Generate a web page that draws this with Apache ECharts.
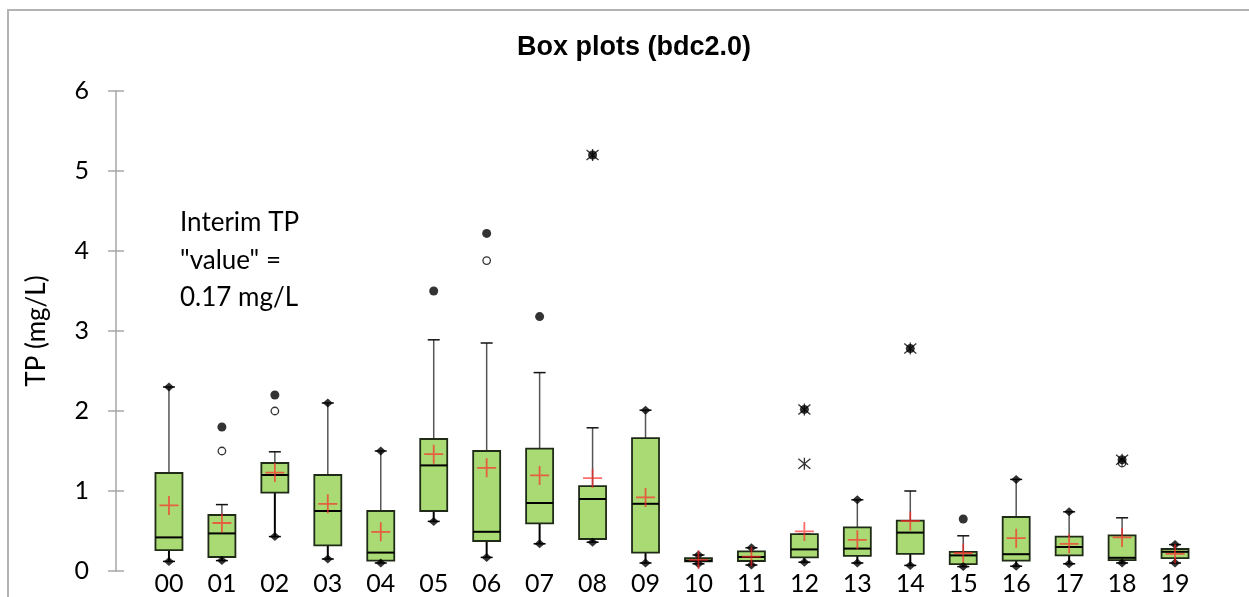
<!DOCTYPE html>
<html>
<head>
<meta charset="utf-8">
<script src="https://cdn.jsdelivr.net/npm/echarts@6/dist/echarts.min.js"></script>
<style>
html,body{margin:0;padding:0;background:#fff;}
#chart{width:1249px;height:597px;}
</style>
</head>
<body>
<div id="chart"></div>
<script>
// ---- data ----
const categories = ['00','01','02','03','04','05','06','07','08','09','10','11','12','13','14','15','16','17','18','19'];
const whiskerLow  = [0.12, 0.13, 0.43, 0.15, 0.10, 0.62, 0.17, 0.34, 0.36, 0.10, 0.09, 0.075, 0.11, 0.10, 0.07, 0.055, 0.06, 0.09, 0.10, 0.10];
const q1          = [0.26, 0.175, 0.98, 0.32, 0.13, 0.75, 0.375, 0.595, 0.40, 0.23, 0.12, 0.125, 0.17, 0.19, 0.215, 0.085, 0.13, 0.195, 0.135, 0.16];
const median      = [0.42, 0.47, 1.20, 0.75, 0.23, 1.32, 0.49, 0.85, 0.90, 0.84, 0.13, 0.175, 0.27, 0.28, 0.48, 0.195, 0.21, 0.30, 0.165, 0.24];
const q3          = [1.225, 0.70, 1.35, 1.20, 0.75, 1.65, 1.50, 1.53, 1.06, 1.66, 0.16, 0.245, 0.46, 0.545, 0.63, 0.24, 0.675, 0.43, 0.445, 0.275];
const whiskerHigh = [2.30, 0.83, 1.49, 2.10, 1.50, 2.89, 2.85, 2.48, 1.79, 2.01, 0.20, 0.29, 0.46, 0.89, 1.00, 0.44, 1.145, 0.74, 0.665, 0.33];
const means       = [0.82, 0.60, 1.23, 0.84, 0.49, 1.46, 1.29, 1.195, 1.16, 0.92, 0.14, 0.18, 0.495, 0.39, 0.625, 0.225, 0.41, 0.34, 0.42, 0.215];
const minima      = [0.12, 0.13, 0.43, 0.15, 0.10, 0.62, 0.17, 0.34, 0.36, 0.10, 0.09, 0.075, 0.11, 0.10, 0.07, 0.055, 0.06, 0.09, 0.10, 0.10];
const maxima      = [2.30, 1.80, 2.20, 2.10, 1.50, 3.50, 4.22, 3.18, 5.20, 2.01, 0.20, 0.29, 2.02, 0.89, 2.78, 0.65, 1.145, 0.74, 1.39, 0.33];
const outliers        = [['01',1.50],['02',2.00],['06',3.88],['18',1.35]];
const extremeOutliers = [['08',5.20],['12',2.02],['12',1.34],['14',2.78],['18',1.39]];
const yTicks = [0,1,2,3,4,5,6];
const titleText = 'Box plots (bdc2.0)';
const yName = 'TP (mg/L)';
const noteLines = ['Interim TP', '"value" =', '0.17 mg/L'];

// ---- build ----
const axisCats = [' '].concat(categories, ['  ']);
const boxData = categories.map((c,i)=>[c, whiskerLow[i], q1[i], median[i], q3[i], whiskerHigh[i]]);
const meanData = categories.map((c,i)=>[c, means[i]]);
const diamondData = categories.map((c,i)=>[c, minima[i]])
  .concat(categories.map((c,i)=>[c, maxima[i]]).filter((d,i)=>maxima[i]===whiskerHigh[i]));
const maxOutData = categories.map((c,i)=>[c, maxima[i]]).filter((d,i)=>maxima[i]!==whiskerHigh[i]);

const FONT = 'Lato';
const chart = echarts.init(document.getElementById('chart'));
const HALF = 13.5, CAP = 6;

chart.setOption({
  animation: false,
  backgroundColor: '#fff',
  title: {
    text: titleText, left: 512, top: 29,
    textStyle: {fontFamily: 'Liberation Sans', fontWeight: 'bold', fontSize: 27, color: '#000'}
  },
  graphic: [
    {type:'rect', shape:{x:8, y:10, width:1300, height:700}, style:{fill:'none', stroke:'#b3b3b3', lineWidth:2}, silent:true, z:-1},
    {type:'text', left:180, top:204, style:{text: noteLines.join('\n'), fontFamily: FONT, fontSize: 26, lineHeight: 37.5, fill:'#000'}}
  ],
  grid: {left:116, right:21, top:91, bottom:26, containLabel:false},
  xAxis: {
    type:'category', data: axisCats, boundaryGap:false,
    axisLine:{show:false}, axisTick:{show:false}, splitLine:{show:false},
    axisLabel:{fontFamily:FONT, fontSize:25, color:'#000', margin:0, interval:0}
  },
  yAxis: [{
    type:'value', min:yTicks[0], max:yTicks[yTicks.length-1], interval:1,
    name: yName, nameLocation:'middle', nameGap:66, nameRotate:90,
    nameTextStyle:{fontFamily:FONT, fontSize:26, color:'#000'},
    axisLine:{show:true, lineStyle:{color:'#a6a6a6', width:1.5}},
    axisTick:{show:true, length:8, lineStyle:{color:'#a6a6a6', width:1.5}},
    axisLabel:{fontFamily:FONT, fontSize:25, color:'#000', margin:27},
    splitLine:{show:false}
  },{
    type:'value', min:yTicks[0], max:yTicks[yTicks.length-1], interval:1, position:'left',
    axisLine:{show:false},
    axisTick:{show:true, inside:true, length:8, lineStyle:{color:'#a6a6a6', width:1.5}},
    axisLabel:{show:false}, splitLine:{show:false}
  }],
  series: [
    {
      type:'custom', name:'box',
      encode:{x:0, y:[1,2,3,4,5]},
      data: boxData,
      z: 2,
      renderItem: function(params, api){
        const x = api.value(0);
        const pLo = api.coord([x, api.value(1)]);
        const pQ1 = api.coord([x, api.value(2)]);
        const pMed = api.coord([x, api.value(3)]);
        const pQ3 = api.coord([x, api.value(4)]);
        const pHi = api.coord([x, api.value(5)]);
        const cx = pLo[0];
        return {
          type:'group',
          children:[
            {type:'line', shape:{x1:cx, y1:pQ3[1], x2:cx, y2:pHi[1]}, style:{stroke:'#555', lineWidth:1.5}},
            {type:'line', shape:{x1:cx-CAP, y1:pHi[1], x2:cx+CAP, y2:pHi[1]}, style:{stroke:'#111', lineWidth:1.5}},
            {type:'line', shape:{x1:cx, y1:pQ1[1], x2:cx, y2:pLo[1]}, style:{stroke:'#000', lineWidth:2}},
            {type:'line', shape:{x1:cx-CAP, y1:pLo[1], x2:cx+CAP, y2:pLo[1]}, style:{stroke:'#000', lineWidth:1.5}},
            {type:'rect', shape:{x:cx-HALF, y:pQ3[1], width:2*HALF, height:pQ1[1]-pQ3[1]}, style:{fill:'#a9da74', stroke:'#1f2b16', lineWidth:1.8}},
            {type:'line', shape:{x1:cx-HALF, y1:pMed[1], x2:cx+HALF, y2:pMed[1]}, style:{stroke:'#000', lineWidth:2}}
          ]
        };
      }
    },
    {
      type:'scatter', name:'Minimum/Maximum', data: diamondData, z:3,
      symbol:'diamond', symbolSize:[10,9], itemStyle:{color:'#000'}
    },
    {
      type:'scatter', name:'Mean', data: meanData, z:4,
      symbol:'path://M5,0L5,10M0,5L10,5', symbolSize:[19,19],
      itemStyle:{color:'none', borderColor:'rgba(255,40,40,0.85)', borderWidth:1.8}
    },
    {
      type:'scatter', name:'Outliers', data: outliers, z:3,
      symbol:'circle', symbolSize:7.5,
      itemStyle:{color:'#fff', borderColor:'#000', borderWidth:1.3}
    },
    {
      type:'scatter', name:'Extreme outliers', data: extremeOutliers, z:3,
      symbol:'path://M0,0L10,10M10,0L0,10M5,-1L5,11', symbolSize:[12,12],
      itemStyle:{color:'none', borderColor:'#000', borderWidth:1.3}
    },
    {
      type:'scatter', name:'Maximum', data: maxOutData, z:3,
      symbol:'circle', symbolSize:9, itemStyle:{color:'#000'}
    }
  ]
});
</script>
</body>
</html>
